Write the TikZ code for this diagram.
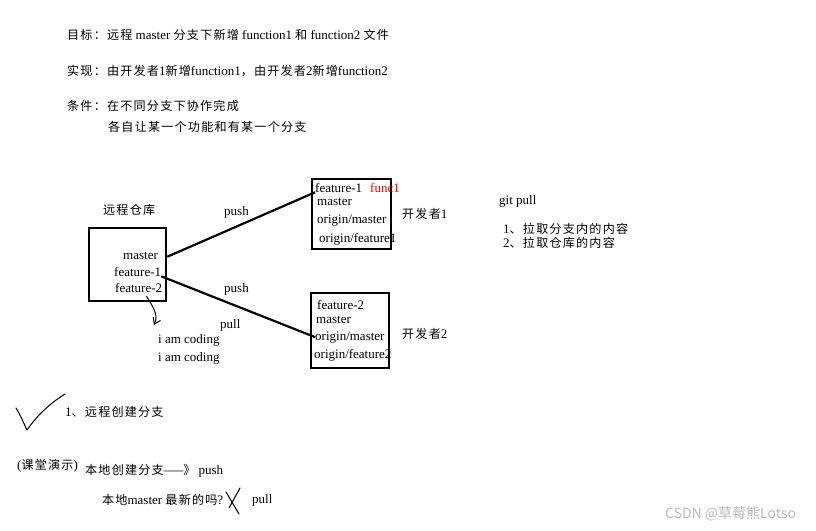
\documentclass[tikz,border=0pt]{standalone}
\usepackage{fontspec}
\setmainfont{Liberation Serif}
\newfontfamily\cjk[Scale=0.93,LetterSpace=10]{Noto Sans CJK SC}
\newfontfamily\wmfont{Noto Sans CJK SC}
\usetikzlibrary{arrows.meta,calc,positioning}

\tikzset{
  txt/.style={anchor=base west,inner sep=0pt,font=\fontsize{13}{15}\selectfont},
  box/.style={draw,line width=2.6pt,inner sep=0pt},
  link/.style={line width=2.2pt},
  hand/.style={line width=1pt,line cap=round,line join=round},
}

\begin{document}
\begin{tikzpicture}[x=1pt,y=-1pt,>=Stealth]
\useasboundingbox (0,0) rectangle (816,530);

\node[txt] (goal) at (67,39) {{\cjk 目标：远程} master {\cjk 分支下新增} function1 {\cjk 和} function2 {\cjk 文件}};
\node[txt] (impl) at (67,75) {{\cjk 实现：由开发者}1{\cjk 新增}function1{\cjk ，由开发者}2{\cjk 新增}function2};
\node[txt] (cond) at (67,110) {{\cjk 条件：在不同分支下协作完成}};
\node[txt] (cond2) at (108,131) {{\cjk 各自让某一个功能和有某一个分支}};

\node[txt] (remotename) at (103,214) {{\cjk 远程仓库}};
\node[box,minimum width=77,minimum height=73] (remote) at (127.5,264.5) {};
\node[txt] (rmaster) at (123,259) {master};
\node[txt] (rf1) at (114,276) {feature-1};
\node[txt] (rf2) at (115,292) {feature-2};

\node[box,minimum width=79,minimum height=70] (dev1) at (351.5,214) {};
\node[txt] (d1f) at (315,192) {feature-1};
\node[txt,text=red] (func1) at (370,192) {func1};
\node[txt] (d1m) at (317,205) {master};
\node[txt] (d1om) at (317,223) {origin/master};
\node[txt] (d1of) at (319,242) {origin/feature1};
\node[txt] (dev1name) at (402,218) {{\cjk 开发者}1};

\node[box,minimum width=78,minimum height=75] (dev2) at (350,330.5) {};
\node[txt] (d2f) at (317,309) {feature-2};
\node[txt] (d2m) at (316,323) {master};
\node[txt] (d2om) at (315,340) {origin/master};
\node[txt] (d2of) at (314,358) {origin/feature2};
\node[txt] (dev2name) at (402,338) {{\cjk 开发者}2};

\draw[link] (remote.east |- rmaster.mid) -- (d1f.south west);
\draw[link] (rf1.south east) -- (d2om.west);
\node[txt] (push1) at (224,215) {push};
\node[txt] (push2) at (224,292) {push};
\node[txt] (pull) at (220,328) {pull};

\coordinate (sqstart) at ([xshift=8pt,yshift=-4pt]rf2.south);
\coordinate (sqend) at (154,325);
\draw[hand,-{Straight Barb[length=6pt,width=8pt]}] (sqstart) .. controls (152,306) and (159,314) .. (sqend);
\node[txt] (code1) at (158,343) {i am coding};
\node[txt] (code2) at (158,361) {i am coding};

\node[txt] (gitpull) at (499,204) {git pull};
\node[txt] (pullstep1) at (503,233) {1{\cjk 、拉取分支内的内容}};
\node[txt] (pullstep2) at (503,247) {2{\cjk 、拉取仓库的内容}};

\draw[hand] (16,408) .. controls (21,416) and (24,424) .. (27,430) .. controls (38,414) and (52,402) .. (65,394);
\node[txt] (step1) at (65,416) {1{\cjk 、远程创建分支}};

\node[txt] (demo) at (17,469) {({\cjk 课堂演示})};
\node[txt] (localbr) at (85,474) {{\cjk 本地创建分支}-----{\cjk 》} push};
\node[txt] (localm) at (102,504) {{\cjk 本地}master {\cjk 最新的吗}?};
\draw[hand] (226,492) -- (239,514);
\draw[hand] (240,488) -- (229,508);
\node[txt] (pull2) at (252,503) {pull};

\node[anchor=base west,inner sep=0pt,text=gray!55,font=\wmfont\fontsize{14}{16}\selectfont] (mark) at (665,518) {CSDN @草莓熊Lotso};
\end{tikzpicture}
\end{document}
